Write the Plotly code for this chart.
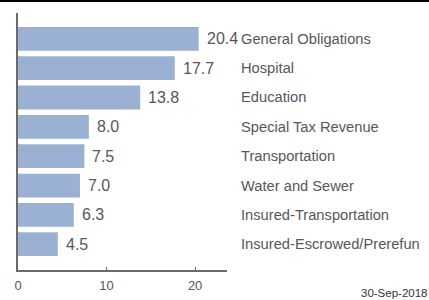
import plotly.graph_objects as go

categories = ["General Obligations", "Hospital", "Education", "Special Tax Revenue",
              "Transportation", "Water and Sewer", "Insured-Transportation",
              "Insured-Escrowed/Prerefun"]
values = [20.4, 17.7, 13.8, 8.0, 7.5, 7.0, 6.3, 4.5]
value_labels = ["20.4", "17.7", "13.8", "8.0", "7.5", "7.0", "6.3", "4.5"]
tick_vals = [0, 10, 20]
date_label = "30-Sep-2018"

FONT = "Liberation Sans, Arial, sans-serif"
TXT = "#575757"
AX = "#6a6a6a"

L, R, T, B = 18.3, 202.3, 13, 29.5
PW = 429 - L - R
PH = 300 - T - B

fig = go.Figure()
fig.add_trace(go.Bar(
    x=values, y=categories, orientation="h",
    marker=dict(color="#9bb1d3", line=dict(width=0)),
    hoverinfo="skip",
))

annotations = []
for c, v, lab in zip(categories, values, value_labels):
    annotations.append(dict(x=v, y=c, xref="x", yref="y", text=lab, showarrow=False,
                            xanchor="left", xshift=6, font=dict(family=FONT, size=16, color=TXT)))
    annotations.append(dict(x=(240 - L) / PW, y=c, xref="paper", yref="y", text=c, showarrow=False,
                            xanchor="left", xshift=-1, font=dict(family=FONT, size=14.7, color=TXT)))
annotations.append(dict(x=(429 - L) / PW, y=-(294 - (T + PH)) / PH, xref="paper", yref="paper",
                        text=date_label, showarrow=False, xanchor="right", yanchor="middle",
                        font=dict(family=FONT, size=11.5, color="#333333")))

fig.update_layout(
    width=429, height=300,
    margin=dict(l=L, r=R, t=T, b=B, autoexpand=False),
    paper_bgcolor="white", plot_bgcolor="white",
    showlegend=False,
    bargap=0.19,
    annotations=annotations,
    xaxis=dict(range=[0, 23.6], tickvals=tick_vals, showgrid=False, zeroline=False,
               automargin=False, ticklabelstandoff=3,
               showline=True, linecolor=AX, linewidth=1.5, ticks="inside", ticklen=3,
               tickcolor=AX, tickfont=dict(family=FONT, size=13, color=TXT)),
    yaxis=dict(type="category", categoryorder="array", categoryarray=categories,
               automargin=False,
               range=[7.88, -0.88], showticklabels=False, showgrid=False, zeroline=False,
               showline=True, linecolor=AX, linewidth=1.5, ticks=""),
    shapes=[dict(type="line", xref="paper", yref="paper", x0=-L / PW, x1=(429 - L) / PW,
                 y0=1 + 12 / PH, y1=1 + 12 / PH, line=dict(color="black", width=2))],
)

fig.write_html("out.html", config={"displayModeBar": False},
               post_script="document.body.style.margin='0';document.body.style.overflow='hidden';")
